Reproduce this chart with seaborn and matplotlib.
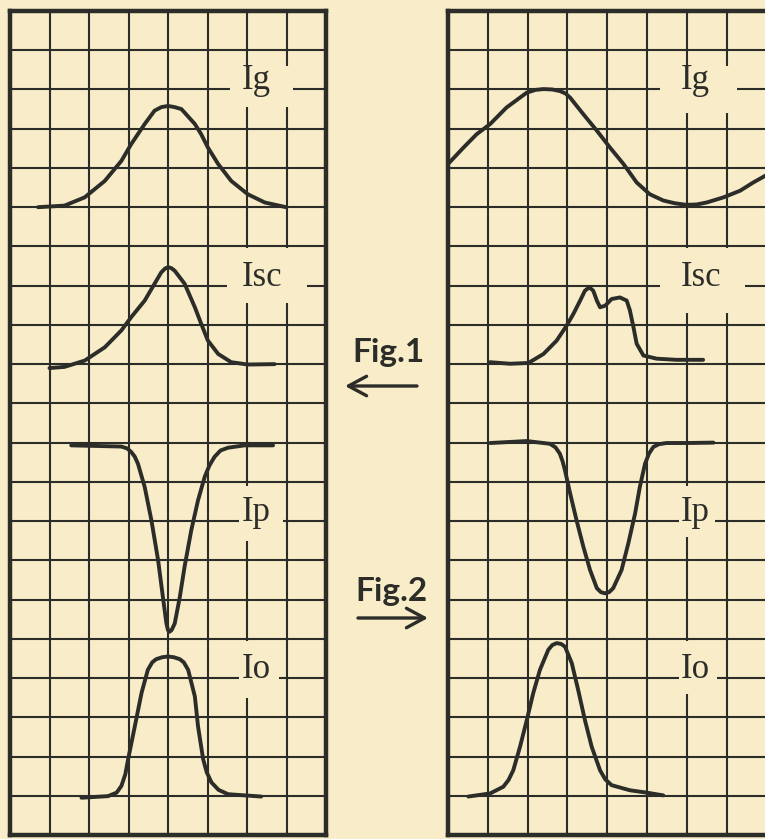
import matplotlib
matplotlib.use('Agg')
import pandas as pd
import matplotlib.pyplot as plt
from matplotlib.patches import Rectangle
import seaborn as sns

# grid units: x = column from the left border, y = row counted from the top (21 rows)
# Fig.1 (left sheet)
left_ig_x = [0.71, 1.38, 1.89, 2.4, 2.82, 3.07, 3.41, 3.66, 3.83, 4.0, 4.17, 4.34, 4.68, 4.84, 5.01, 5.27, 5.6, 6.02, 6.45, 6.99]
left_ig_y = [5.0, 4.96, 4.75, 4.33, 3.82, 3.39, 2.88, 2.54, 2.45, 2.42, 2.45, 2.5, 2.88, 3.14, 3.48, 3.9, 4.33, 4.67, 4.88, 5.0]
left_isc_x = [1.0, 1.38, 1.89, 2.4, 2.82, 3.07, 3.41, 3.66, 3.83, 3.93, 4.0, 4.08, 4.17, 4.42, 4.68, 4.84, 5.01, 5.27, 5.6, 6.02, 6.7]
left_isc_y = [9.1, 9.07, 8.91, 8.57, 8.14, 7.8, 7.38, 6.95, 6.66, 6.56, 6.53, 6.55, 6.62, 6.95, 7.55, 7.97, 8.4, 8.74, 8.95, 9.01, 9.0]
left_ip_x = [1.55, 2.82, 2.97, 3.07, 3.16, 3.24, 3.41, 3.58, 3.75, 3.87, 3.96, 4.0, 4.04, 4.09, 4.17, 4.3, 4.42, 4.59, 4.76, 4.93, 5.05, 5.18, 5.33, 5.52, 5.94, 6.66]
left_ip_y = [11.07, 11.1, 11.15, 11.24, 11.36, 11.54, 12.13, 12.98, 14.0, 14.93, 15.61, 15.78, 15.82, 15.78, 15.61, 14.93, 14.16, 13.23, 12.47, 11.87, 11.58, 11.36, 11.2, 11.13, 11.07, 11.07]
left_io_x = [1.81, 2.48, 2.7, 2.82, 2.92, 2.99, 3.16, 3.33, 3.49, 3.6, 3.7, 3.85, 4.0, 4.15, 4.3, 4.4, 4.51, 4.68, 4.76, 4.89, 4.98, 5.1, 5.28, 5.52, 6.36]
left_io_y = [20.05, 20.01, 19.92, 19.75, 19.45, 19.07, 18.23, 17.38, 16.79, 16.6, 16.52, 16.47, 16.45, 16.47, 16.52, 16.6, 16.79, 17.47, 18.23, 19.07, 19.4, 19.66, 19.85, 19.96, 20.02]

# Fig.2 (right sheet)
right_ig_x = [0.0, 0.39, 0.72, 1.06, 1.47, 1.98, 2.2, 2.4, 2.62, 2.81, 2.95, 3.07, 3.4, 3.74, 4.07, 4.41, 4.74, 5.07, 5.41, 5.7, 5.99, 6.25, 6.5, 6.92, 7.34, 7.67, 7.97]
right_ig_y = [3.9, 3.48, 3.14, 2.88, 2.46, 2.08, 2.01, 1.99, 2.0, 2.04, 2.1, 2.21, 2.63, 3.05, 3.48, 3.9, 4.37, 4.67, 4.83, 4.9, 4.94, 4.93, 4.88, 4.75, 4.58, 4.37, 4.2]
right_isc_x = [1.06, 1.56, 2.02, 2.4, 2.73, 2.98, 3.15, 3.32, 3.44, 3.55, 3.65, 3.74, 3.82, 3.95, 4.11, 4.32, 4.49, 4.57, 4.66, 4.74, 4.91, 5.24, 5.74, 6.41]
right_isc_y = [8.95, 8.99, 8.97, 8.74, 8.4, 8.02, 7.72, 7.38, 7.13, 7.04, 7.13, 7.38, 7.55, 7.51, 7.34, 7.3, 7.38, 7.63, 8.06, 8.48, 8.78, 8.86, 8.89, 8.89]
right_ip_x = [1.06, 1.98, 2.56, 2.7, 2.81, 2.88, 2.94, 3.07, 3.23, 3.4, 3.57, 3.74, 3.84, 3.94, 4.05, 4.15, 4.36, 4.53, 4.7, 4.82, 4.95, 5.05, 5.16, 5.3, 5.49, 5.99, 6.67]
right_ip_y = [11.01, 10.96, 11.03, 11.12, 11.28, 11.48, 11.71, 12.3, 12.98, 13.65, 14.25, 14.71, 14.81, 14.84, 14.81, 14.71, 14.25, 13.57, 12.81, 12.13, 11.54, 11.28, 11.11, 11.04, 11.01, 11.01, 11.0]
right_io_x = [0.51, 1.06, 1.39, 1.52, 1.64, 1.81, 1.98, 2.14, 2.31, 2.52, 2.62, 2.73, 2.84, 2.94, 3.11, 3.27, 3.44, 3.61, 3.82, 3.95, 4.11, 4.57, 4.99, 5.41]
right_io_y = [20.02, 19.94, 19.77, 19.6, 19.35, 18.75, 18.07, 17.39, 16.79, 16.28, 16.16, 16.11, 16.13, 16.2, 16.62, 17.3, 18.07, 18.75, 19.35, 19.58, 19.73, 19.86, 19.92, 19.99]

labels = ['Ig', 'Isc', 'Ip', 'Io']
label_rows = [2, 7, 13, 17]
fig_titles = ['Fig.1', 'Fig.2']

paper = '#f8edc8'
ink = '#2c2c29'
W, H = 765, 839

sns.set_style('white')
plt.rcParams['font.family'] = ['Liberation Serif', 'DejaVu Serif']

fig = plt.figure(figsize=(W / 100, H / 100), dpi=100)
fig.patch.set_facecolor(paper)


def sheet(x0, x1, ncols, show_right):
    ax = fig.add_axes([x0 / W, 4 / H, (x1 - x0) / W, 824 / H])
    ax.set_facecolor(paper)
    ax.set_xlim(0, ncols)
    ax.set_ylim(21, 0)
    ax.set_xticks([])
    ax.set_yticks([])
    for c in range(1, 8):
        ax.axvline(c, color=ink, lw=1.5, zorder=1)
    for r in range(1, 21):
        ax.axhline(r, color=ink, lw=1.5, zorder=1)
    for side, sp in ax.spines.items():
        sp.set_color(ink)
        sp.set_linewidth(3.2)
    ax.spines['right'].set_visible(show_right)
    return ax


ax_l = sheet(10, 326, 8, True)
ax_r = sheet(448, 765, 317 / 39.8, False)

# blank spots in the grid where the labels are written
gaps_l = [(5.57, 1.4, 1.59, 1.05), (5.49, 6.05, 2.03, 1.4), (5.8, 12.1, 1.1, 1.4), (5.8, 16.05, 1.0, 1.45)]
gaps_r = [(5.33, 1.4, 1.93, 1.2), (5.33, 6.05, 2.13, 1.65), (5.8, 12.1, 0.9, 1.3), (5.8, 16.05, 0.95, 1.35)]

curves_l = [(left_ig_x, left_ig_y), (left_isc_x, left_isc_y), (left_ip_x, left_ip_y), (left_io_x, left_io_y)]
curves_r = [(right_ig_x, right_ig_y), (right_isc_x, right_isc_y), (right_ip_x, right_ip_y), (right_io_x, right_io_y)]

for ax, gaps, curves in [(ax_l, gaps_l, curves_l), (ax_r, gaps_r, curves_r)]:
    for g in gaps:
        ax.add_patch(Rectangle((g[0], g[1]), g[2], g[3], facecolor=paper, edgecolor='none', zorder=2))
    for cx, cy in curves:
        df = pd.DataFrame({'col': cx, 'row': cy})
        sns.lineplot(data=df, x='col', y='row', ax=ax, color=ink, lw=2.8, sort=False,
                     estimator=None, zorder=3, solid_capstyle='round', solid_joinstyle='round')
    for lab, r in zip(labels, label_rows):
        ax.text(5.86, r, lab, ha='left', va='baseline', fontsize=25, color=ink, zorder=4)
    ax.set_xlabel('')
    ax.set_ylabel('')

# captions and arrows between the sheets
hand = ['Lato', 'DejaVu Sans']
fig.text(352 / W, 1 - 362 / H, fig_titles[0], ha='left', va='baseline', fontsize=24,
         fontweight='bold', color=ink, family=hand)
fig.text(355 / W, 1 - 601 / H, fig_titles[1], ha='left', va='baseline', fontsize=24,
         fontweight='bold', color=ink, family=hand)

arrow = dict(arrowstyle='->,head_length=1.3,head_width=0.7', lw=2.4, color=ink,
             shrinkA=0, shrinkB=0, mutation_scale=10)
ax_l.annotate('', xy=(345, H - 386), xytext=(417, H - 386), xycoords='figure pixels',
              textcoords='figure pixels', arrowprops=arrow, annotation_clip=False)
ax_l.annotate('', xy=(428, H - 618), xytext=(358, H - 618), xycoords='figure pixels',
              textcoords='figure pixels', arrowprops=arrow, annotation_clip=False)

fig.savefig('out.png', dpi=100, facecolor=paper)
